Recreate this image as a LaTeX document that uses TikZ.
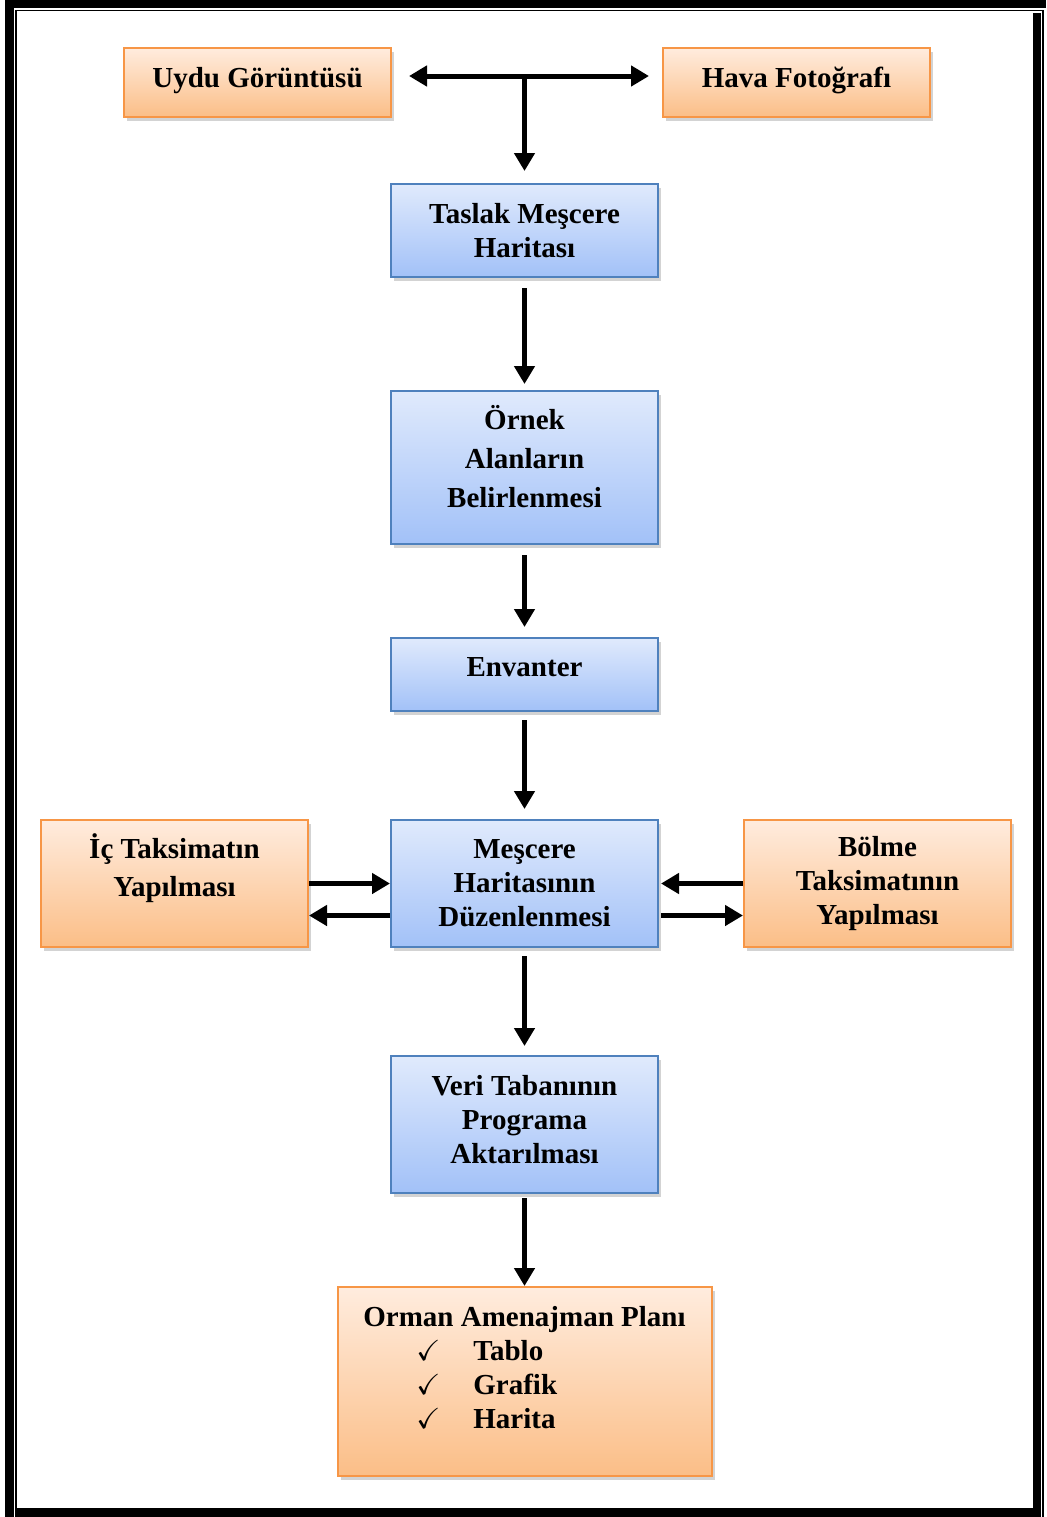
\documentclass[tikz,border=0pt]{standalone}
\usepackage{amssymb}
\usepackage{fontspec}
\setmainfont{Liberation Serif}
\usepackage{tikz}
\usetikzlibrary{positioning, arrows.meta, calc, shadows}
\definecolor{orangeline}{RGB}{247,150,70}
\definecolor{orangetop}{RGB}{255,236,222}
\definecolor{orangebot}{RGB}{251,190,135}
\definecolor{blueline}{RGB}{79,129,189}
\definecolor{bluetop}{RGB}{224,234,252}
\definecolor{bluebot}{RGB}{162,193,248}
\tikzset{
  box/.style={
    draw, line width=1pt, minimum width=133.5pt, align=center, inner sep=2pt,
    font=\fontsize{14.5}{17}\selectfont\bfseries,
    drop shadow={shadow xshift=1.5pt, shadow yshift=-2pt, opacity=0.35}
  },
  bluebox/.style={box, draw=blueline, top color=bluetop, bottom color=bluebot},
  orangebox/.style={box, draw=orangeline, top color=orangetop, bottom color=orangebot},
  every edge/.style={draw, line width=2.5pt, -{Triangle[length=9pt,width=10pt]}},
}
\begin{document}
\begin{tikzpicture}[x=0.5pt, y=-0.5pt]
  \useasboundingbox (0,0) rectangle (1046,1517);
  % page frame
  \fill (5,0) rectangle (14,1517);
  \fill (5,0) rectangle (1046,8);
  \fill (1033,13) rectangle (1041,1517);
  \fill (17,1508) rectangle (1041,1517);
  \draw[line width=0.8pt] (16,1517) -- (16,10.5) -- (1042.7,10.5) -- (1042.7,1517);

  \node[orangebox, minimum height=34.5pt] (UYDU) at (257.5,82.5) {Uydu Görüntüsü\\[-12pt]{}};
  \node[orangebox, minimum height=34.5pt] (HAVA) at (796.5,82.5) {Hava Fotoğrafı\\[-12pt]{}};
  \node[bluebox, minimum height=46.5pt] (TASLAK) at (524.5,230.5) {Taslak Meşcere\\Haritası};
  \node[bluebox, minimum height=76.5pt, below=56pt of TASLAK,
        font=\fontsize{14.5}{19.5}\selectfont\bfseries] (ORNEK) {Örnek\\Alanların\\Belirlenmesi\\[-8.5pt]{}};
  \node[bluebox, minimum height=36.5pt, below=46pt of ORNEK] (ENVANTER) {Envanter\\[-9.5pt]{}};
  \node[bluebox, minimum height=63.5pt, below=53.5pt of ENVANTER] (MESCERE) {Meşcere\\Haritasının\\Düzenlenmesi};
  \node[orangebox, minimum height=63.5pt, left=40.5pt of MESCERE,
        font=\fontsize{14.5}{19}\selectfont\bfseries] (IC) {İç Taksimatın\\Yapılması\\[-1pt]{}};
  \node[orangebox, minimum height=63.5pt, right=42pt of MESCERE] (BOLME) {Bölme\\Taksimatının\\Yapılması};
  \node[bluebox, minimum height=68.5pt, below=53.5pt of MESCERE] (VERI) {Veri Tabanının\\Programa\\Aktarılması\\[-12pt]{}};
  \node[orangebox, minimum width=187pt, minimum height=94.5pt, below=46pt of VERI, align=left] (PLAN)
    {Orman Amenajman Planı\\
     \hspace*{26.5pt}\makebox[28.5pt][l]{$\checkmark$}Tablo\\
     \hspace*{26.5pt}\makebox[28.5pt][l]{$\checkmark$}Grafik\\
     \hspace*{26.5pt}\makebox[28.5pt][l]{$\checkmark$}Harita\\[-2.5pt]{}};

  \coordinate[yshift=3.25pt] (SPLIT) at (TASLAK.north |- UYDU.east);
  \path (SPLIT) edge[shorten >=8.5pt] (UYDU.east |- SPLIT)
        (SPLIT) edge[shorten >=6.5pt] (HAVA.west |- SPLIT)
        (SPLIT) edge[shorten >=6pt] (TASLAK)
        (TASLAK) edge[shorten <=5pt, shorten >=3pt] (ORNEK)
        (ORNEK) edge[shorten <=5pt, shorten >=5pt] (ENVANTER)
        (ENVANTER) edge[shorten <=4pt, shorten >=5pt] (MESCERE)
        (MESCERE) edge[shorten <=4pt, shorten >=4.5pt] (VERI)
        (VERI) edge[shorten <=2pt] (PLAN)
        (IC.east) edge (MESCERE.west)
        ([yshift=-16pt]MESCERE.west) edge ([yshift=-16pt]IC.east)
        (BOLME.west) edge[shorten >=1pt] (MESCERE.east)
        ([yshift=-16pt]MESCERE.east) edge[shorten <=1pt] ([yshift=-16pt]BOLME.west);
\end{tikzpicture}
\end{document}
